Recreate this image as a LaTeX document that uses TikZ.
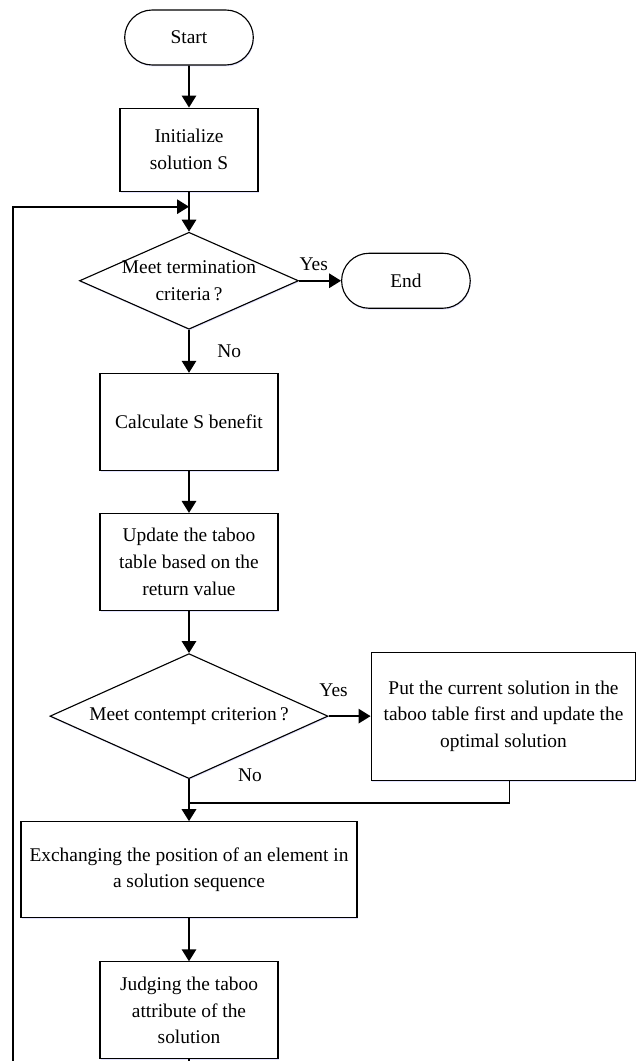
\documentclass[tikz,border=0pt]{standalone}
\usepackage{fontspec}
\setmainfont{Liberation Serif}
\usetikzlibrary{arrows.meta,positioning,calc,shapes.geometric,shapes.misc,shadows}

\begin{document}
\begin{tikzpicture}[
  node distance=1.05cm,
  base/.style={draw,line width=0.8pt,fill=white,align=center,font=\fontsize{13.8pt}{19pt}\selectfont,
    drop shadow={fill=blue!25,opacity=0.45,shadow xshift=0.4pt,shadow yshift=-1pt}},
  term/.style={base,rounded rectangle,minimum width=3.45cm,minimum height=1.375cm},
  proc/.style={base,rectangle,minimum width=4.45cm,minimum height=2.425cm},
  test/.style={base,diamond,inner sep=-2pt},
  flow/.style={line width=1.3pt,-{Triangle[length=3mm,width=3.6mm]}},
  link/.style={line width=1.3pt},
  tag/.style={font=\fontsize{13.8pt}{19pt}\selectfont}
]
  \useasboundingbox (0,0) rectangle (15.975,-26.525);
  \node[term] (start) at (4.725,-0.9375) {Start};
  \node[proc,minimum width=3.45cm,minimum height=2.075cm,below=of start] (init) {Initialize\\solution S};
  \node[test,minimum width=5.475cm,minimum height=2.425cm,aspect=2.26,below=1.0cm of init] (crit1) {Meet termination\\criteria\,?};
  \node[term,right=of crit1] (stop) {End};
  \node[proc,below=1.075cm of crit1] (calc) {Calculate S benefit};
  \node[proc,below=of calc] (upd) {Update the taboo\\table based on the\\return value};
  \node[test,minimum width=6.95cm,minimum height=3.125cm,aspect=2.22,below=of upd] (crit2) {Meet contempt criterion\,?};
  \node[proc,minimum width=6.62cm,minimum height=3.2cm,right=of crit2] (best) {Put the current solution in the\\taboo table first and update the\\optimal solution};
  \node[proc,minimum width=8.4cm,minimum height=2.4cm,below=of crit2] (swap) {Exchanging the position of an element in\\a solution sequence};
  \node[proc,below=1.075cm of swap] (judge) {Judging the taboo\\attribute of the\\solution};
  % junction points of the loop and the merge
  \coordinate[below=0.375cm of init] (join);
  \coordinate[below=0.6cm of crit2] (merge);
  \coordinate (loopend) at (0.325,-26.525);
  \draw[flow] (start) -- (init);
  \draw[flow] (init) -- (crit1);
  \draw[flow] (crit1) -- node[tag,above=0.12cm,pos=0.35] {Yes} (stop);
  \draw[flow] (crit1) -- node[tag,right=0.57cm,pos=0.49] {No} (calc);
  \draw[flow] (calc) -- (upd);
  \draw[flow] (upd) -- (crit2);
  \draw[flow] (crit2) -- node[tag,above=0.35cm,pos=0.12] {Yes} (best);
  \draw[flow] (crit2) -- node[tag,pos=0,right=1.09cm,yshift=0.1cm] {No} (swap);
  \draw[link] ([xshift=0.15cm]best.south) |- (merge);
  \draw[flow] (swap) -- (judge);
  \draw[link] (judge) -- (judge.south |- loopend);
  \draw[flow] (loopend) |- (join);
\end{tikzpicture}
\end{document}
